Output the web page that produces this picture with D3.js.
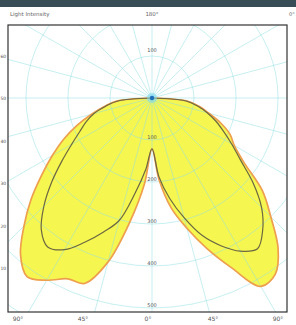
<!DOCTYPE html>
<meta charset="utf-8">
<style>
    body { margin: 0; background: #fff; }
    text { font-family: "DejaVu Sans", sans-serif; }
</style>
<svg width="296" height="325"></svg>
<script src="https://d3js.org/d3.v7.min.js"></script>
<script>

    // polar angles from nadir (degrees) and intensities (cd/klm)
    var angles = [0, 5, 10, 15, 20, 25, 30, 35, 40, 45, 50, 55, 60, 65, 70, 75, 80, 85, 90];
    var outerLeft = [121, 205, 297, 404, 470, 475, 501, 519, 487, 431, 376, 321, 274, 232, 190, 149, 114, 84, 0];
    var outerRight = [121, 196, 267, 321, 381, 445, 518, 512, 467, 400, 343, 267, 226, 205, 174, 140, 114, 84, 0];
    var innerLeft = [121, 171, 229, 302, 340, 379, 417, 433, 410, 364, 312, 262, 221, 190, 167, 143, 112, 82, 0];
    var innerRight = [121, 188, 243, 295, 348, 388, 421, 438, 410, 369, 314, 257, 219, 188, 162, 136, 110, 82, 0];

    var rings = [100, 200, 300, 400, 500, 600, 700];
    var ringLabels = ["100", "200", "300", "400", "500"];
    var spokeStep = 15;
    var bottomLabels = ["90°", "45°", "0°", "45°", "90°"];
    var sideLabels = ["60", "50", "40", "30", "20", "10"];

    var svg = d3.select("svg"),
        width = +svg.attr("width"),
        height = +svg.attr("height");

    var frame = {x: 8, y: 25, w: 279, h: 287};
    var cx = 152, cy = 98;

    var r = d3.scaleLinear().domain([0, 100]).range([0, 42]);
    var rad = function (deg) { return deg * Math.PI / 180; };

    // top bar
    svg.append("rect")
        .attr("width", width).attr("height", 7)
        .attr("fill", "#394d57");

    svg.append("text").attr("x", 10).attr("y", 16)
        .attr("font-size", 5.5).attr("fill", "#666")
        .text("Light Intensity");
    svg.append("text").attr("x", 152).attr("y", 16)
        .attr("font-size", 5.5).attr("fill", "#666").attr("text-anchor", "middle")
        .text("180°");
    svg.append("text").attr("x", 289).attr("y", 16)
        .attr("font-size", 5).attr("fill", "#666")
        .text("0°");

    svg.append("defs").append("clipPath").attr("id", "frame-clip")
        .append("rect")
        .attr("x", frame.x).attr("y", frame.y)
        .attr("width", frame.w).attr("height", frame.h);

    var plot = svg.append("g").attr("clip-path", "url(#frame-clip)");
    var g = plot.append("g").attr("transform", "translate(" + cx + "," + cy + ")");

    function buildPoints(left, right) {
        var pts = [];
        for (var i = angles.length - 1; i >= 0; i--) {
            pts.push([Math.PI + rad(angles[i]), r(left[i])]);
        }
        for (var j = 1; j < angles.length; j++) {
            pts.push([Math.PI - rad(angles[j]), r(right[j])]);
        }
        return pts;
    }

    var line = d3.lineRadial()
        .angle(function (d) { return d[0]; })
        .radius(function (d) { return d[1]; })
        .curve(d3.curveCatmullRom);

    var outerPts = buildPoints(outerLeft, outerRight);
    var innerPts = buildPoints(innerLeft, innerRight);

    g.append("path")
        .attr("d", line(outerPts) + "Z")
        .attr("fill", "#f6f650");

    // grid drawn over the fill
    var grid = g.append("g")
        .attr("stroke", "#8fe0e4")
        .attr("stroke-opacity", 0.5)
        .attr("fill", "none")
        .attr("stroke-width", 1);

    grid.selectAll("circle")
        .data(rings)
        .enter().append("circle")
        .attr("r", function (d) { return r(d); });

    grid.selectAll("line")
        .data(d3.range(0, 360, spokeStep))
        .enter().append("line")
        .attr("x1", 0).attr("y1", 0)
        .attr("x2", function (d) { return 400 * Math.sin(rad(d)); })
        .attr("y2", function (d) { return 400 * Math.cos(rad(d)); });

    g.append("path")
        .attr("d", line(outerPts) + "Z")
        .attr("fill", "none")
        .attr("stroke", "#ee9f4e")
        .attr("stroke-width", 1.7)
        .attr("stroke-linejoin", "round");

    g.append("path")
        .attr("d", line(innerPts) + "Z")
        .attr("fill", "none")
        .attr("stroke", "#6b6842")
        .attr("stroke-width", 1.2)
        .attr("stroke-linejoin", "round");

    // lamp marker
    g.append("circle").attr("r", 5).attr("fill", "#7fd9f0").attr("opacity", 0.6);
    g.append("circle").attr("r", 2.2).attr("fill", "#1f6fb8");

    // ring labels along the nadir axis
    g.selectAll("text.ring")
        .data(ringLabels)
        .enter().append("text")
        .attr("class", "ring")
        .attr("x", 0)
        .attr("y", function (d) { return r(+d) - 1; })
        .attr("text-anchor", "middle")
        .attr("font-size", 5)
        .attr("fill", "#555")
        .text(function (d) { return d; });

    g.append("text")
        .attr("x", 0).attr("y", -r(100) - 4)
        .attr("text-anchor", "middle")
        .attr("font-size", 5)
        .attr("fill", "#555")
        .text(ringLabels[0]);

    svg.append("rect")
        .attr("x", frame.x).attr("y", frame.y)
        .attr("width", frame.w).attr("height", frame.h)
        .attr("fill", "none")
        .attr("stroke", "#333")
        .attr("stroke-width", 1.2);

    // labels of the outer axes, squeezed into the margins
    var bx = d3.scalePoint().domain(d3.range(bottomLabels.length)).range([18, 278]);
    svg.selectAll("text.bottom")
        .data(bottomLabels)
        .enter().append("text")
        .attr("class", "bottom")
        .attr("x", function (d, i) { return bx(i); })
        .attr("y", 316)
        .attr("dominant-baseline", "hanging")
        .attr("text-anchor", "middle")
        .attr("font-size", 6)
        .attr("fill", "#555")
        .text(function (d) { return d; });

    var sy = d3.scalePoint().domain(d3.range(sideLabels.length)).range([56, 268]);
    svg.selectAll("text.side")
        .data(sideLabels)
        .enter().append("text")
        .attr("class", "side")
        .attr("x", 0.5)
        .attr("y", function (d, i) { return sy(i) + 2; })
        .attr("font-size", 4.5)
        .attr("fill", "#555")
        .text(function (d) { return d; });

</script>
